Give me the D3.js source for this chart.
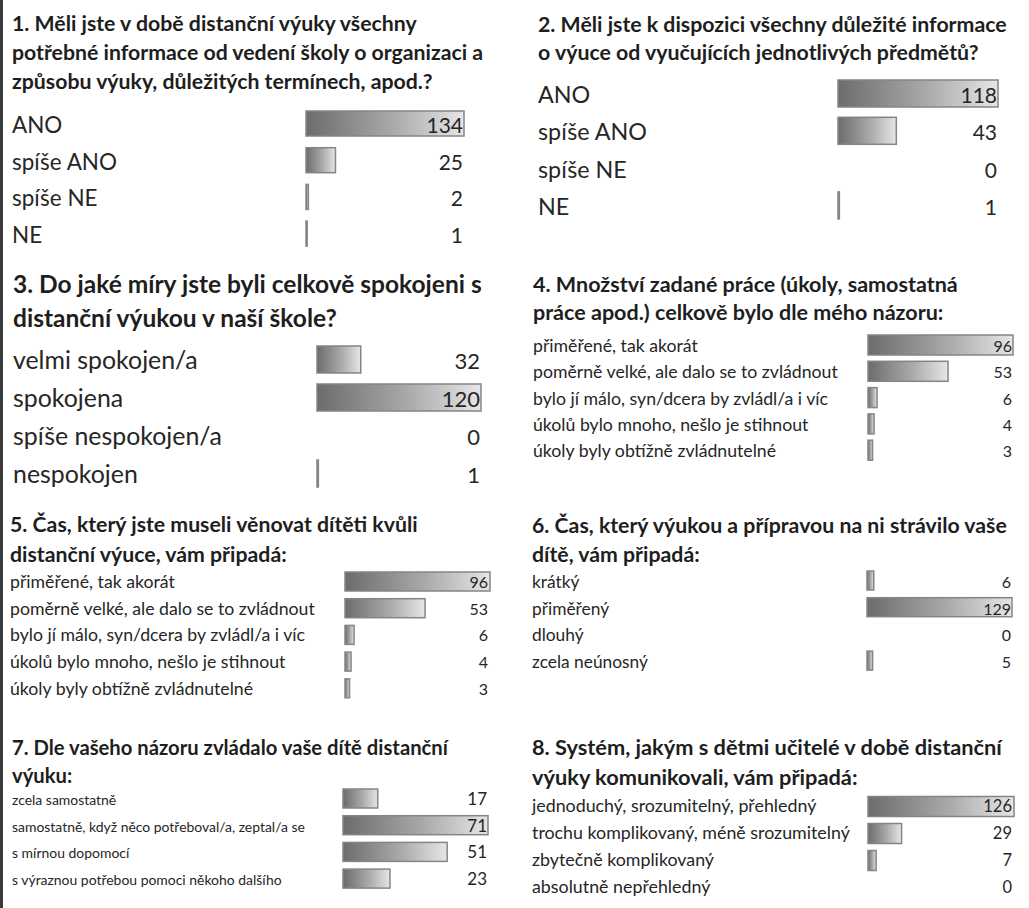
<!DOCTYPE html>
<html>
<head>
<meta charset="utf-8">
<script src="https://cdn.jsdelivr.net/npm/d3@7"></script>
<style>
  html, body { margin: 0; padding: 0; background: #fff; }
  svg { display: block; }
  text { font-family: Lato, "Noto Sans", sans-serif; fill: #262626; }
</style>
</head>
<body>
<svg id="chart" width="1029" height="908"></svg>
<script>
// ---------- DATA ----------
const q1Title = ["1. Měli jste v době distanční výuky všechny", "potřebné informace od vedení školy o organizaci a", "způsobu výuky, důležitých termínech, apod.?"];
const q1Labels = ["ANO", "spíše ANO", "spíše NE", "NE"];
const q1Values = [134, 25, 2, 1];

const q2Title = ["2. Měli jste k dispozici všechny důležité informace", "o výuce od vyučujících jednotlivých předmětů?"];
const q2Labels = ["ANO", "spíše ANO", "spíše NE", "NE"];
const q2Values = [118, 43, 0, 1];

const q3Title = ["3. Do jaké míry jste byli celkově spokojeni s", "distanční výukou v naší škole?"];
const q3Labels = ["velmi spokojen/a", "spokojena", "spíše nespokojen/a", "nespokojen"];
const q3Values = [32, 120, 0, 1];

const q4Title = ["4. Množství zadané práce (úkoly, samostatná", "práce apod.) celkově bylo dle mého názoru:"];
const q4Labels = ["přiměřené, tak akorát", "poměrně velké, ale dalo se to zvládnout", "bylo jí málo, syn/dcera by zvládl/a i víc", "úkolů bylo mnoho, nešlo je stihnout", "úkoly byly obtížně zvládnutelné"];
const q4Values = [96, 53, 6, 4, 3];

const q5Title = ["5. Čas, který jste museli věnovat dítěti kvůli", "distanční výuce, vám připadá:"];
const q5Labels = ["přiměřené, tak akorát", "poměrně velké, ale dalo se to zvládnout", "bylo jí málo, syn/dcera by zvládl/a i víc", "úkolů bylo mnoho, nešlo je stihnout", "úkoly byly obtížně zvládnutelné"];
const q5Values = [96, 53, 6, 4, 3];

const q6Title = ["6. Čas, který výukou a přípravou na ni strávilo vaše", "dítě, vám připadá:"];
const q6Labels = ["krátký", "přiměřený", "dlouhý", "zcela neúnosný"];
const q6Values = [6, 129, 0, 5];

const q7Title = ["7. Dle vašeho názoru zvládalo vaše dítě distanční", "výuku:"];
const q7Labels = ["zcela samostatně", "samostatně, když něco potřeboval/a, zeptal/a se", "s mírnou dopomocí", "s výraznou potřebou pomoci někoho dalšího"];
const q7Values = [17, 71, 51, 23];

const q8Title = ["8. Systém, jakým s dětmi učitelé v době distanční", "výuky komunikovali, vám připadá:"];
const q8Labels = ["jednoduchý, srozumitelný, přehledný", "trochu komplikovaný, méně srozumitelný", "zbytečně komplikovaný", "absolutně nepřehledný"];
const q8Values = [126, 29, 7, 0];

// ---------- LAYOUT ----------
const layouts = [
  {x0: 12,  tb: [31, 60, 89], tw: 405, r0: 133, step: 36.7, li: 1, lw: 105, bx: 306, bw: 158, bh: 25, bo: 9.5, vr: 463, vs: 21},
  {x0: 538, tb: [32, 60],     tw: 469, r0: 103, step: 37.3, li: 1, lw: 109, bx: 838, bw: 160, bh: 27, bo: 9.5, vr: 997, vs: 21},
  {x0: 13,  tb: [293, 327],   tw: 469, r0: 369, step: 38,   li: 2, lw: 209, bx: 317, bw: 164, bh: 27, bo: 9.5, vr: 480, vs: 22},
  {x0: 533, tb: [292, 320],   tw: 425, r0: 352, step: 26.3, li: 1, lw: 305, bx: 868, bw: 145, bh: 20, bo: 7,   vr: 1012, vs: 16},
  {x0: 10,  tb: [532, 562],   tw: 408, r0: 588, step: 26.7, li: 1, lw: 305, bx: 345, bw: 145, bh: 19, bo: 6.5, vr: 488, vs: 16},
  {x0: 532, tb: [533, 562],   tw: 475, r0: 588, step: 26.7, li: 3, lw: 116, bx: 867, bw: 145, bh: 19, bo: 7.5, vr: 1011, vs: 16},
  {x0: 12,  tb: [755, 783],   tw: 436, r0: 805, step: 26.7, li: 1, lw: 293, bx: 343, bw: 145, bh: 19, bo: 6.5, vr: 487, vs: 17},
  {x0: 532, tb: [755, 785],   tw: 470, r0: 812, step: 27,   li: 1, lw: 318, bx: 868, bw: 146, bh: 20, bo: 5.5, vr: 1012, vs: 16.5}
];

const panels = [
  [q1Title, q1Labels, q1Values], [q2Title, q2Labels, q2Values],
  [q3Title, q3Labels, q3Values], [q4Title, q4Labels, q4Values],
  [q5Title, q5Labels, q5Values], [q6Title, q6Labels, q6Values],
  [q7Title, q7Labels, q7Values], [q8Title, q8Labels, q8Values]
];

const svg = d3.select("#chart");
svg.append("rect").attr("width", 1029).attr("height", 908).attr("fill", "#fff").style("fill", "#fff");

const defs = svg.append("defs");
const grad = defs.append("linearGradient").attr("id", "barGrad")
  .attr("x1", "0").attr("y1", "0").attr("x2", "1").attr("y2", "0");
grad.append("stop").attr("offset", "0").attr("stop-color", "#6c6c6c");
grad.append("stop").attr("offset", "0.55").attr("stop-color", "#a9a9a9");
grad.append("stop").attr("offset", "1").attr("stop-color", "#e6e6e6");

// left page border
svg.append("rect").attr("x", 0).attr("y", 0).attr("width", 3).attr("height", 908).attr("fill", "#3a3a3a");

// text fitting helper
const probe = svg.append("text").attr("x", -2000).attr("y", -2000).style("font-size", "100px");
function fitSize(txt, weight, target) {
  probe.style("font-weight", weight).text(txt);
  const w = probe.node().getComputedTextLength();
  return 100 * target / w;
}

panels.forEach(([title, labels, values], i) => {
  const L = layouts[i];
  const g = svg.append("g");

  const ts = fitSize(title[0], 700, L.tw);
  g.selectAll("text.title").data(title).join("text")
    .attr("class", "title")
    .attr("x", L.x0)
    .attr("y", (d, k) => L.tb[k])
    .style("font-size", ts + "px")
    .style("font-weight", 700)
    .style("fill", "#1e1e1e")
    .text(d => d);

  const ls = fitSize(labels[L.li], 400, L.lw);
  const y = d3.scalePoint().domain(d3.range(labels.length))
    .range([L.r0, L.r0 + L.step * (labels.length - 1)]);
  const x = d3.scaleLinear().domain([0, d3.max(values)]).range([L.bx, L.bx + L.bw]);

  g.selectAll("text.label").data(labels).join("text")
    .attr("class", "label")
    .attr("x", L.x0)
    .attr("y", (d, k) => y(k))
    .style("font-size", ls + "px")
    .text(d => d);

  g.selectAll("rect.bar").data(values.map((v, k) => ({v, k})).filter(d => d.v > 0)).join("rect")
    .attr("class", "bar")
    .attr("x", x(0))
    .attr("y", d => y(d.k) - L.bo - L.bh / 2)
    .attr("width", d => x(d.v) - x(0))
    .attr("height", L.bh)
    .attr("fill", "url(#barGrad)")
    .attr("stroke", "#858585")
    .attr("stroke-width", 1.5);

  g.selectAll("text.value").data(values).join("text")
    .attr("class", "value")
    .attr("x", L.vr)
    .attr("y", (d, k) => y(k))
    .attr("text-anchor", "end")
    .style("font-size", L.vs + "px")
    .text(d => d);
});
probe.remove();
</script>
</body>
</html>
